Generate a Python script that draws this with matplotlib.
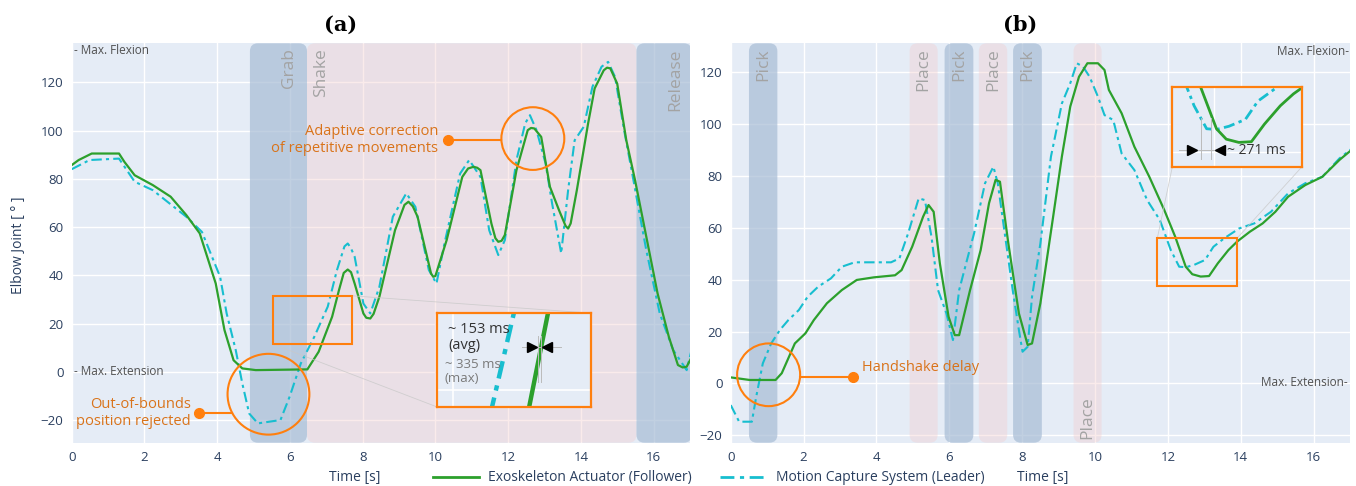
import numpy as np
import matplotlib
matplotlib.use("Agg")
import matplotlib.pyplot as plt
from matplotlib.patches import FancyBboxPatch, Ellipse, Rectangle
from matplotlib.lines import Line2D

plt.rcParams['font.family'] = ['Open Sans', 'DejaVu Sans']

# ---- panel (a): handshake ----
t_a_fol = [0, 0.19, 0.55, 1.30, 1.45, 1.73, 2.23, 2.72, 3.15, 3.52, 3.96, 4.20, 4.45, 4.69, 5.06, 6.48,
           6.79, 7.16, 7.35, 7.48, 7.59, 7.68, 7.78, 8.02, 8.10, 8.21, 8.30, 8.46, 8.89, 9.15, 9.26,
           9.38, 9.51, 9.88, 9.94, 10.0, 10.31, 10.74, 10.90, 11.05, 11.15, 11.24, 11.54, 11.65,
           11.73, 11.82, 11.91, 12.23, 12.54, 12.63, 12.72, 12.91, 13.15, 13.40, 13.58, 13.65,
           13.72, 13.89, 14.20, 14.38, 14.63, 14.72, 14.81, 15.0, 15.25, 15.49, 15.80, 16.11,
           16.42, 16.67, 16.80, 16.91, 17.1]
v_a_fol = [85.7, 87.8, 90.5, 90.5, 87.0, 81.5, 77.4, 72.6, 65.0, 57.4, 36.6, 17.3, 4.8, 1.4, 0.7, 1.0,
           8.3, 22.8, 33.9, 41.0, 42.4, 41.3, 36.6, 24.2, 22.4, 22.1, 24.0, 31.1, 58.7, 69.2, 70.5,
           68.6, 64.3, 40.8, 39.4, 39.7, 54.6, 80.8, 84.3, 85.0, 84.6, 83.6, 61.5, 55.4,
           53.9, 54.3, 56.7, 83.6, 100.2, 101.1, 100.9, 97.4, 76.7, 67.0, 60.5, 59.4,
           61.5, 75.3, 103.0, 117.5, 125.0, 126.1, 125.8, 119.5, 96.0, 79.5, 56.0, 32.5,
           14.5, 2.8, 1.8, 2.1, 7.6]
t_a_lead = [0, 0.49, 1.30, 1.73, 2.23, 3.15, 3.58, 4.08, 4.26, 4.51, 4.69, 4.88, 5.12, 5.74, 5.99,
            6.30, 6.67, 7.04, 7.29, 7.50, 7.59, 7.67, 7.78, 8.02, 8.21, 8.46, 8.83, 9.20, 9.45, 9.82,
            10.03, 10.25, 10.68, 10.93, 11.24, 11.48, 11.73, 11.91, 12.23, 12.47, 12.60, 12.78,
            13.03, 13.21, 13.46, 13.65, 13.83, 14.08, 14.32, 14.57, 14.75, 14.94, 15.19, 15.43,
            15.80, 16.17, 16.54, 16.91, 17.1]
v_a_lead = [84.0, 87.8, 88.4, 78.8, 75.3, 64.3, 58.0, 39.4, 24.2, 9.0, -4.8, -17.3, -21.4, -20.0, -10.4,
            3.5, 14.5, 27.0, 42.0, 52.0, 53.2, 51.5, 47.7, 28.3, 24.2, 35.2, 64.3, 74.0, 68.4, 42.2,
            36.6, 53.2, 82.2, 87.8, 80.8, 58.7, 48.4, 54.6, 87.8, 103.0, 106.4, 100.2,
            86.4, 69.8, 49.1, 75.3, 96.0, 101.6, 118.2, 126.5, 128.5, 122.3, 100.2, 80.8,
            50.4, 24.2, 9.0, 0.7, 12.4]

# ---- panel (b): pick and place ----
t_b_fol = [0, 0.52, 1.23, 1.40, 1.76, 2.05, 2.28, 2.64, 3.05, 3.46, 3.93, 4.51, 4.69, 4.98, 5.28,
           5.43, 5.57, 5.74, 5.98, 6.15, 6.27, 6.57, 6.86, 7.09, 7.27, 7.39, 7.62, 7.91, 8.15,
           8.27, 8.50, 8.85, 9.09, 9.32, 9.56, 9.79, 10.08, 10.26, 10.38, 10.73, 11.08, 11.49,
           11.90, 12.20, 12.49, 12.67, 12.90, 13.13, 13.37, 13.66, 13.90, 14.25, 14.60, 14.95,
           15.30, 15.77, 16.24, 16.71, 17.06]
v_b_fol = [2.3, 1.3, 1.3, 3.9, 15.4, 19.3, 24.4, 30.9, 36.0, 39.9, 40.9, 41.7, 43.7, 52.7, 64.3,
           68.8, 66.2, 46.3, 25.7, 18.6, 18.6, 36.0, 51.4, 69.5, 78.5, 77.8, 54.0, 27.0, 14.8,
           15.4, 30.9, 64.3, 87.5, 106.8, 118.3, 123.5, 123.5, 120.9, 113.2, 104.2, 91.3, 79.7,
           66.9, 56.6, 45.0, 42.1, 41.2, 41.4, 46.3, 51.4, 54.7, 58.5, 61.7, 66.2,
           72.0, 76.5, 79.7, 86.2, 90.3]
t_b_lead = [0, 0.23, 0.58, 0.70, 0.88, 1.11, 1.35, 1.58, 1.87, 2.11, 2.40, 2.75, 3.05, 3.40, 3.81,
            4.40, 4.63, 4.87, 5.16, 5.33, 5.51, 5.69, 5.92, 6.10, 6.27, 6.51, 6.68, 6.98, 7.21,
            7.33, 7.56, 7.74, 7.91, 8.01, 8.15, 8.27, 8.50, 8.79, 9.09, 9.32, 9.50, 9.67, 9.85,
            10.08, 10.26, 10.50, 10.73, 11.08, 11.43, 11.78, 12.08, 12.31, 12.49, 12.72, 13.02,
            13.25, 13.54, 13.96, 14.37, 14.83, 15.30, 15.77, 16.24, 16.71, 17.06]
v_b_lead = [-8.4, -14.8, -14.8, -5.1, 7.7, 15.4, 20.6, 24.4, 28.3, 33.4, 37.3, 40.5, 45.0, 46.7, 46.7,
            46.7, 48.2, 57.9, 71.4, 70.7, 56.6, 36.0, 27.0, 16.7, 36.0, 48.9, 57.9, 77.2, 83.6,
            77.2, 54.0, 36.0, 20.6, 12.2, 14.1, 33.4, 54.0, 87.5, 108.0, 115.8, 123.5, 122.2, 118.3,
            110.6, 103.5, 101.6, 88.7, 82.3, 70.7, 63.0, 51.4, 45.0, 44.8, 45.7, 47.6,
            52.7, 55.9, 59.8, 61.7, 66.2, 73.3, 77.2, 79.7, 86.8, 90.7]

# phases: (label, start, end, kind)
phases_a = [("Grab", 4.90, 6.47, "blue"), ("Shake", 6.47, 15.53, "pink"), ("Release", 15.53, 17.05, "blue")]
phases_b = [("Pick", 0.50, 1.28, "blue"), ("Place", 4.91, 5.68, "pink"), ("Pick", 5.87, 6.66, "blue"),
            ("Place", 6.81, 7.59, "pink"), ("Pick", 7.75, 8.54, "blue"), ("Place", 9.41, 10.18, "pink")]

BG = '#e5ecf6'
GREEN = '#2ca02c'
CYAN = '#17becf'
ORANGE = '#ff7f0e'
ORTXT = '#d9731a'
AXC = '#2a3f5f'
DASHDOT = (0, (5, 2, 1.5, 2))

fig = plt.figure(figsize=(13.56, 4.86), dpi=100)
axA = fig.add_axes([0.0529, 0.0891, 0.5088 - 0.0529, 0.9109 - 0.0891])
axB = fig.add_axes([0.5389, 0.0891, 0.9956 - 0.5389, 0.9109 - 0.0891])


def style(ax, ylim):
    ax.set_facecolor(BG)
    ax.set_xlim(0, 17)
    ax.set_ylim(*ylim)
    ax.set_xticks(range(0, 17, 2))
    ax.set_yticks(range(-20, 121, 20))
    ax.grid(True, color='white', lw=1.0)
    ax.set_axisbelow(True)
    for s in ax.spines.values():
        s.set_visible(False)
    ax.tick_params(length=0, labelsize=9.5, colors=AXC, pad=6)


def phases(ax, items, label_pos, label_shift):
    fig.canvas.draw()
    bb = ax.get_window_extent()
    x0, x1 = ax.get_xlim()
    y0, y1 = ax.get_ylim()
    asp = ((y1 - y0) / bb.height) / ((x1 - x0) / bb.width)
    for i, (name, a, b, kind) in enumerate(items):
        if kind == "blue":
            fc, al = '#a9bed6', 0.72
        else:
            fc, al = '#f4cccc', 0.38
        p = FancyBboxPatch((a, y0), b - a, y1 - y0, boxstyle="round,pad=0,rounding_size=0.22",
                           mutation_aspect=asp, fc=fc, ec='none', alpha=al, zorder=1)
        ax.add_patch(p)
        if name == "Shake":
            xt = a + 0.38
        else:
            xt = (a + b) / 2 + label_shift
        if label_pos[i] == "top":
            ax.text(xt, y1 - 2, name, rotation=90, ha='center', va='top', fontsize=12.5,
                    color='#a3a3a3', zorder=2)
        else:
            ax.text(xt, y0 + 1.5, name, rotation=90, ha='center', va='bottom', fontsize=12.5,
                    color='#a3a3a3', zorder=2)


style(axA, (-29.4, 136.2))
style(axB, (-22.9, 131.2))
phases(axA, phases_a, ["top"] * 3, 0.3)
phases(axB, phases_b, ["top"] * 5 + ["bottom"], 0.0)

axA.plot(t_a_lead, v_a_lead, color=CYAN, lw=1.5, ls=DASHDOT, zorder=3)
axA.plot(t_a_fol, v_a_fol, color=GREEN, lw=1.6, zorder=4)
axB.plot(t_b_lead, v_b_lead, color=CYAN, lw=1.5, ls=DASHDOT, zorder=3)
axB.plot(t_b_fol, v_b_fol, color=GREEN, lw=1.6, zorder=4)

# limit texts
axA.text(0.05, 135.8, "- Max. Flexion", fontsize=8.5, color='#505050', va='top', ha='left', zorder=5)
axA.text(0.05, 0.3, "- Max. Extension", fontsize=8.5, color='#505050', va='center', ha='left', zorder=5)
axB.text(16.97, 130.6, "Max. Flexion-", fontsize=8.5, color='#505050', va='top', ha='right', zorder=5)
axB.text(16.93, 0.3, "Max. Extension-", fontsize=8.5, color='#505050', va='center', ha='right', zorder=5)


def callout(ax, cx, cy, w, h, dot, text, ha, tx, ty):
    ax.add_patch(Ellipse((cx, cy), w, h, fill=False, ec=ORANGE, lw=1.5, zorder=6))
    dx, dy = dot
    # point where the leader line meets the ellipse
    r = np.sqrt(max(0.0, 1 - ((dy - cy) / (h / 2)) ** 2))
    ex = cx - np.sign(cx - dx) * (w / 2) * r
    ax.plot([dx, ex], [dy, dy], color=ORANGE, lw=1.5, zorder=6)
    ax.plot([dx], [dy], 'o', color=ORANGE, ms=7, zorder=7)
    ax.text(tx, ty, text, ha=ha, va='center', multialignment=ha, fontsize=10.5,
            color=ORTXT, zorder=7, linespacing=1.15)


callout(axA, 5.41, -9.3, 2.25, 33.5, (3.49, -17.0), "Out-of-bounds\nposition rejected", 'right', 3.27, -17.0)
callout(axA, 12.68, 96.7, 1.73, 26.0, (10.36, 96.0), "Adaptive correction\nof repetitive movements",
        'right', 10.08, 96.0)
callout(axB, 1.04, 3.3, 1.73, 24.2, (3.35, 2.6), "Handshake delay", 'left', 3.6, 6.0)


def zoom_inset(ax, rect, inset_bounds, xl, yl, t_lead, v_lead, t_fol, v_fol, lw, links):
    rx0, ry0, rx1, ry1 = rect
    ax.add_patch(Rectangle((rx0, ry0), rx1 - rx0, ry1 - ry0, fill=False, ec=ORANGE, lw=1.5, zorder=6))
    ins = ax.inset_axes(inset_bounds, transform=ax.transData, zorder=8)
    ins.set_facecolor(BG)
    ins.plot(t_lead, v_lead, color=CYAN, lw=lw, ls=(0, (4, 1.6, 1.2, 1.6)))
    ins.plot(t_fol, v_fol, color=GREEN, lw=lw)
    ins.set_xlim(*xl)
    ins.set_ylim(*yl)
    ins.set_xticks([])
    ins.set_yticks([])
    for s in ins.spines.values():
        s.set_color(ORANGE)
        s.set_linewidth(1.6)
    for (p, q) in links:
        ax.plot([p[0], q[0]], [p[1], q[1]], color='#c9c9c9', lw=0.6, alpha=0.8, zorder=5)
    return ins


insA = zoom_inset(axA, (5.53, 11.5, 7.72, 31.5), [10.05, -14.6, 4.24, 38.9],
                  (6.27, 7.42), (14.8, 20.3), t_a_lead, v_a_lead, t_a_fol, v_a_fol, 3.2,
                  [((5.53, 11.5), (10.05, -14.6)), ((7.72, 31.5), (14.29, 24.3))])
insA.axvline(6.27 + 0.1 * 1.15, color='white', lw=1.2, zorder=0)
insA.axhline(14.8 + 0.18 * 5.5, color='white', lw=1.2, zorder=0)
insA.text(0.07, 0.74, "~ 153 ms\n(avg)", transform=insA.transAxes, fontsize=10.5, color='#333333',
          va='center', ha='left', linespacing=1.1)
insA.text(0.05, 0.38, "~ 335 ms\n(max)", transform=insA.transAxes, fontsize=9.5, color='#7a7a7a',
          va='center', ha='left', linespacing=1.1)
insA.plot([0.55, 0.8], [0.64, 0.64], transform=insA.transAxes, color='#bbbbbb', lw=0.7)
insA.plot([0.655, 0.655], [0.27, 0.76], transform=insA.transAxes, color='#bbbbbb', lw=0.7)
insA.plot([0.675, 0.675], [0.27, 0.76], transform=insA.transAxes, color='#bbbbbb', lw=0.7)
insA.plot([0.615], [0.64], marker='>', color='black', ms=7, transform=insA.transAxes)
insA.plot([0.715], [0.64], marker='<', color='black', ms=7, transform=insA.transAxes)

insB = zoom_inset(axB, (11.71, 37.6, 13.9, 56.0), [12.12, 83.4, 3.55, 30.9],
                  (11.68, 14.05), (34.3, 56.6), t_b_lead, v_b_lead, t_b_fol, v_b_fol, 2.0,
                  [((11.71, 56.0), (12.12, 83.4)), ((13.9, 56.0), (15.67, 83.4))])
insB.axvline(12.45, color='white', lw=1.0, zorder=0)
insB.axhline(38.5, color='white', lw=1.0, zorder=0)
insB.plot([0.05, 0.4], [0.21, 0.21], transform=insB.transAxes, color='#bbbbbb', lw=0.7)
insB.plot([0.22, 0.22], [0.1, 0.62], transform=insB.transAxes, color='#bbbbbb', lw=0.7)
insB.plot([0.30, 0.30], [0.1, 0.62], transform=insB.transAxes, color='#bbbbbb', lw=0.7)
insB.plot([0.15], [0.21], marker='>', color='black', ms=7, transform=insB.transAxes)
insB.plot([0.37], [0.21], marker='<', color='black', ms=7, transform=insB.transAxes)
insB.text(0.42, 0.21, "~ 271 ms", transform=insB.transAxes, fontsize=10, color='#333333',
          va='center', ha='left')

# titles, labels, legend
fig.text(0.2515, 0.948, "(a)", fontsize=15, fontweight='bold', family='DejaVu Serif',
         ha='center', va='center', color='black')
fig.text(0.752, 0.948, "(b)", fontsize=15, fontweight='bold', family='DejaVu Serif',
         ha='center', va='center', color='black')
fig.text(0.0133, 0.496, "Elbow Joint [ ° ]", rotation=90, fontsize=10, color=AXC,
         ha='center', va='center')
fig.text(0.2618, 0.0165, "Time [s]", fontsize=10, color=AXC, ha='center', va='center')
fig.text(0.769, 0.0165, "Time [s]", fontsize=10, color=AXC, ha='center', va='center')

handles = [Line2D([], [], color=GREEN, lw=2),
           Line2D([], [], color=CYAN, lw=2, ls=DASHDOT)]
leg = fig.legend(handles, ["Exoskeleton Actuator (Follower)", "Motion Capture System (Leader)"],
                 loc='center', bbox_to_anchor=(0.5225, 0.0165), ncol=2, frameon=False,
                 fontsize=10, handlelength=3.3, columnspacing=2.0, handletextpad=0.7)
for txt in leg.get_texts():
    txt.set_color(AXC)

fig.savefig("out.png", dpi=100)
